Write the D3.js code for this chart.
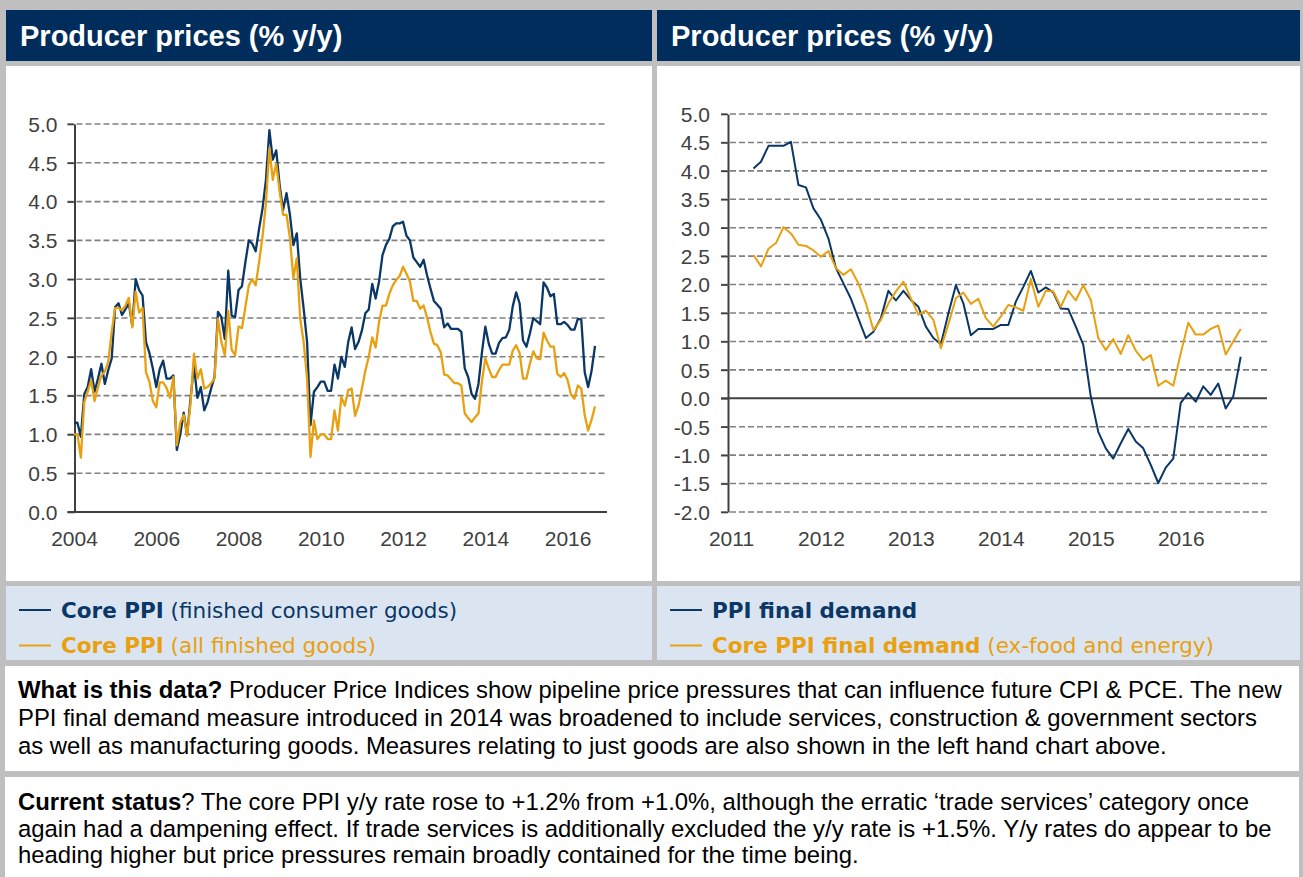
<!DOCTYPE html>
<html>
<head>
<meta charset="utf-8">
<script src="https://cdn.jsdelivr.net/npm/d3@7"></script>
<style>
  body { margin: 0; background: #fff; }
  svg { display: block; }
  .tick text { font-family: "Liberation Sans", Arial, sans-serif; font-size: 21px; fill: #404040; }
</style>
</head>
<body>
<svg id="page" width="1303" height="877"></svg>
<script>
// ---- data ----
// left chart, monthly from Jan 2004 to Sep 2016
var leftStart = 2004;
var leftBlue = [1.15,1.15,0.97,1.52,1.61,1.84,1.55,1.72,1.91,1.65,1.83,1.98,2.64,2.69,2.54,2.61,2.69,2.40,3.00,2.86,2.79,2.19,2.05,1.85,1.61,1.84,1.95,1.72,1.72,1.76,0.80,1.00,1.28,0.99,1.46,1.89,1.47,
  1.61,1.31,1.42,1.59,1.74,2.58,2.51,2.23,3.11,2.53,2.51,2.86,2.91,3.22,3.50,3.46,3.36,3.65,3.91,4.28,4.92,4.54,4.66,4.21,3.89,4.11,3.83,3.44,3.59,3.01,2.62,2.19,1.12,1.55,1.61,1.68,1.68,1.56,1.56,1.90,1.72,
  2.00,1.87,2.19,2.38,2.10,2.19,2.34,2.56,2.61,2.94,2.75,2.97,3.31,3.44,3.52,3.68,3.72,3.72,3.74,3.56,3.50,3.28,3.22,3.16,3.25,3.05,2.88,2.72,2.67,2.62,2.38,2.43,2.36,2.36,2.36,2.32,1.85,1.74,1.52,1.46,
  1.65,2.05,2.39,2.17,2.04,2.04,2.18,2.24,2.25,2.35,2.65,2.83,2.69,2.21,2.13,2.30,2.50,2.46,2.42,2.96,2.89,2.78,2.81,2.42,2.42,2.45,2.41,2.35,2.35,2.49,2.48,1.80,1.61,1.82,2.14];
var leftOrange = [1.00,1.00,0.70,1.42,1.55,1.70,1.43,1.61,1.76,1.81,1.94,2.32,2.63,2.63,2.60,2.66,2.76,2.38,2.84,2.57,2.63,1.80,1.68,1.43,1.35,1.67,1.67,1.60,1.47,1.74,0.86,1.15,1.25,0.98,1.40,2.04,1.72,
  1.84,1.59,1.61,1.66,1.72,2.49,2.19,2.02,2.59,2.09,2.02,2.39,2.37,2.64,2.92,3.00,2.92,3.22,3.55,3.98,4.69,4.28,4.49,4.13,3.83,3.83,3.53,3.01,3.27,2.49,2.19,1.72,0.71,1.18,0.94,1.00,1.00,0.94,0.94,1.31,1.05,
  1.48,1.37,1.57,1.59,1.24,1.37,1.59,1.82,2.00,2.25,2.12,2.45,2.66,2.66,2.81,2.92,2.99,3.04,3.16,3.07,2.97,2.72,2.72,2.62,2.66,2.51,2.32,2.17,2.15,2.06,1.77,1.76,1.71,1.66,1.66,1.63,1.27,1.21,1.16,1.22,
  1.27,1.68,1.98,1.85,1.74,1.74,1.83,1.90,1.90,1.90,2.08,2.15,2.05,1.72,1.72,1.91,2.07,1.98,1.97,2.31,2.21,2.13,2.13,1.78,1.74,1.79,1.70,1.51,1.46,1.63,1.59,1.25,1.05,1.19,1.36];

// right chart, monthly from Apr 2011 to Sep 2016
var rightStart = 2011 + 3 / 12;
var rightBlue = [4.04,4.16,4.44,4.44,4.44,4.51,3.75,3.71,3.34,3.14,2.81,2.29,2.02,1.75,1.40,1.06,1.17,1.41,1.89,1.72,1.89,1.73,
  1.61,1.26,1.06,0.95,1.49,1.99,1.67,1.11,1.22,1.22,1.22,1.29,1.29,1.70,1.96,2.24,1.86,1.95,1.86,1.58,1.57,1.26,0.94,
  0.03,-0.59,-0.88,-1.06,-0.79,-0.54,-0.76,-0.88,-1.17,-1.49,-1.22,-1.06,-0.08,0.09,-0.06,0.21,0.06,0.26,-0.18,0.03,0.73];
var rightOrange = [2.52,2.32,2.63,2.73,3.01,2.90,2.70,2.68,2.60,2.49,2.59,2.29,2.17,2.27,2.02,1.67,1.20,1.38,1.67,1.88,2.05,1.76,
  1.47,1.54,1.38,0.88,1.30,1.76,1.86,1.66,1.75,1.41,1.26,1.44,1.64,1.60,1.54,2.10,1.61,1.89,1.88,1.61,1.89,1.72,1.99,
  1.73,1.06,0.85,1.04,0.78,1.11,0.84,0.67,0.76,0.22,0.31,0.22,0.79,1.33,1.12,1.12,1.22,1.28,0.77,1.00,1.22];

// tick values
var leftYTicks = d3.range(0, 5.01, 0.5);
var rightYTicks = d3.range(-2, 5.01, 0.5);
var leftXTicks = [2004, 2006, 2008, 2010, 2012, 2014, 2016];
var rightXTicks = [2011, 2012, 2013, 2014, 2015, 2016];

var titleText = "Producer prices (% y/y)";
var leftLegend = [
  { bold: "Core PPI", rest: " (finished consumer goods)", series: "blue" },
  { bold: "Core PPI", rest: " (all finished goods)", series: "orange" }
];
var rightLegend = [
  { bold: "PPI final demand", rest: "", series: "blue" },
  { bold: "Core PPI final demand", rest: " (ex-food and energy)", series: "orange" }
];
var note1 = [
  [{ t: "What is this data?", b: true }, { t: " Producer Price Indices show pipeline price pressures that can influence future CPI & PCE. The new" }],
  [{ t: "PPI final demand measure introduced in 2014 was broadened to include services, construction & government sectors" }],
  [{ t: "as well as manufacturing goods. Measures relating to just goods are also shown in the left hand chart above." }]
];
var note2 = [
  [{ t: "Current status", b: true }, { t: "? The core PPI y/y rate rose to +1.2% from +1.0%, although the erratic \u2018trade services\u2019 category once" }],
  [{ t: "again had a dampening effect. If trade services is additionally excluded the y/y rate is +1.5%. Y/y rates do appear to be" }],
  [{ t: "heading higher but price pressures remain broadly contained for the time being." }]
];

// ---- styles ----
var colors = { blue: "#0a3766", orange: "#e9a010", navy: "#002d5c", frame: "#bfbfbf", legendBg: "#dbe5f1", axis: "#404040", grid: "#808080" };
var sansFont = '"Liberation Sans", Arial, sans-serif';
var legendFont = '"DejaVu Sans", Verdana, sans-serif';

var svg = d3.select("#page");

// grey frame behind everything
svg.append("rect").attr("width", 1303).attr("height", 877).attr("fill", colors.frame);

// the two panels
var panels = [
  { x0: 6, x1: 652, legend: leftLegend },
  { x0: 657, x1: 1300, legend: rightLegend }
];

panels.forEach(function (p) {
  // title bar
  svg.append("rect").attr("x", p.x0).attr("y", 10).attr("width", p.x1 - p.x0).attr("height", 51).attr("fill", colors.navy);
  svg.append("text")
    .attr("x", p.x0 + 14).attr("y", 45.5)
    .attr("font-family", sansFont).attr("font-size", 29).attr("font-weight", "bold")
    .attr("fill", "#fff")
    .text(titleText);

  // chart area
  svg.append("rect").attr("x", p.x0).attr("y", 66).attr("width", p.x1 - p.x0).attr("height", 515).attr("fill", "#fff");

  // legend area
  svg.append("rect").attr("x", p.x0).attr("y", 586).attr("width", p.x1 - p.x0).attr("height", 74).attr("fill", colors.legendBg);

  p.legend.forEach(function (item, i) {
    var ly = 610 + i * 35.5;
    svg.append("line")
      .attr("x1", p.x0 + 13).attr("x2", p.x0 + 45)
      .attr("y1", ly).attr("y2", ly)
      .attr("stroke", colors[item.series]).attr("stroke-width", 2);
    var t = svg.append("text")
      .attr("x", p.x0 + 55).attr("y", ly + 7.5)
      .attr("font-family", legendFont).attr("font-size", 21.5)
      .attr("fill", colors[item.series])
      .style("white-space", "pre");
    t.append("tspan").attr("font-weight", "bold").text(item.bold);
    if (item.rest) t.append("tspan").text(item.rest);
  });
});

// draw one line chart
function drawChart(opts) {
  var g = svg.append("g");
  var x = d3.scaleLinear().domain(opts.xDomain).range(opts.xRange);
  var y = d3.scaleLinear().domain(opts.yDomain).range(opts.yRange);

  // horizontal gridlines, the zero line is solid
  g.selectAll(".grid")
    .data(opts.yTicks)
    .enter().append("line")
    .attr("class", "grid")
    .attr("x1", opts.axisX - 7).attr("x2", opts.gridEnd)
    .attr("y1", function (d) { return y(d); })
    .attr("y2", function (d) { return y(d); })
    .attr("stroke", function (d) { return Math.abs(d) < 1e-9 ? colors.axis : colors.grid; })
    .attr("stroke-width", function (d) { return Math.abs(d) < 1e-9 ? 2 : 1.6; })
    .attr("stroke-dasharray", function (d) { return Math.abs(d) < 1e-9 ? null : "6,3"; });

  // y axis (plain hyphen for negatives, like the original)
  var yAxis = d3.axisLeft(y)
    .tickValues(opts.yTicks)
    .tickFormat(function (d) { return d.toFixed(1); })
    .tickSize(7).tickSizeOuter(0).tickPadding(opts.yPad);
  var yg = g.append("g").attr("transform", "translate(" + opts.axisX + ",0)").call(yAxis);
  yg.selectAll("line").attr("stroke", colors.axis).attr("stroke-width", 1.6);
  yg.select(".domain").attr("stroke", colors.axis).attr("stroke-width", 2);
  yg.selectAll("text").attr("dy", "0.35em");

  // x axis labels only
  var xAxis = d3.axisBottom(x)
    .tickValues(opts.xTicks)
    .tickFormat(d3.format("d"))
    .tickSize(0).tickPadding(19);
  var xg = g.append("g").attr("transform", "translate(0," + opts.yRange[0] + ")").call(xAxis);
  xg.select(".domain").remove();

  // series lines
  var line = d3.line()
    .x(function (d, i) { return x(opts.start + i / 12); })
    .y(function (d) { return y(d); });

  opts.series.forEach(function (s) {
    g.append("path")
      .datum(s.values)
      .attr("fill", "none")
      .attr("stroke", colors[s.color])
      .attr("stroke-width", opts.lineWidth)
      .attr("stroke-linejoin", "round")
      .attr("d", line);
  });
}

drawChart({
  xDomain: [2004, 2016 + 8 / 12], xRange: [74, 595],
  yDomain: [0, 5], yRange: [512, 124],
  axisX: 74.5, gridEnd: 607, yPad: 10,
  yTicks: leftYTicks, xTicks: leftXTicks,
  start: leftStart, lineWidth: 2.3,
  series: [{ values: leftBlue, color: "blue" }, { values: leftOrange, color: "orange" }]
});

drawChart({
  xDomain: [2011, 2016 + 8 / 12], xRange: [731, 1240.7],
  yDomain: [-2, 5], yRange: [512, 114],
  axisX: 728, gridEnd: 1267, yPad: 11,
  yTicks: rightYTicks, xTicks: rightXTicks,
  start: rightStart, lineWidth: 2,
  series: [{ values: rightBlue, color: "blue" }, { values: rightOrange, color: "orange" }]
});

// text boxes at the bottom
function drawNote(lines, top, height, firstBaseline, lineStep) {
  svg.append("rect").attr("x", 5).attr("y", top).attr("width", 1294).attr("height", height).attr("fill", "#fff");
  lines.forEach(function (parts, i) {
    var t = svg.append("text")
      .attr("x", 18).attr("y", firstBaseline + i * lineStep)
      .attr("font-family", sansFont).attr("font-size", 23.9)
      .attr("fill", "#000")
      .style("white-space", "pre");
    parts.forEach(function (p) {
      t.append("tspan").attr("font-weight", p.b ? "bold" : null).text(p.t);
    });
  });
}

drawNote(note1, 666, 105, 698, 28);
drawNote(note2, 777, 100, 810, 26.5);
</script>
</body>
</html>
